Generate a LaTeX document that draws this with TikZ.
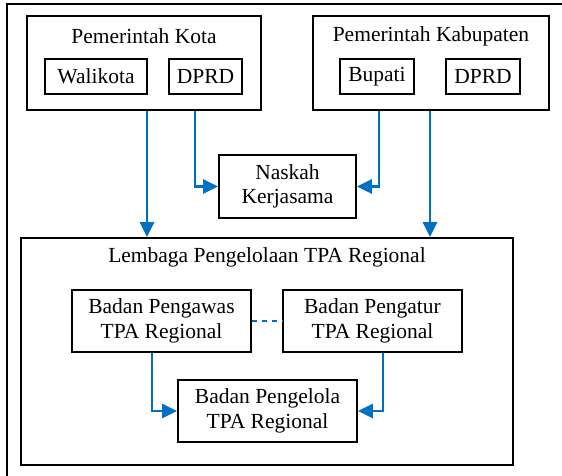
\documentclass[tikz,border=0pt]{standalone}
\usepackage{fontspec}
\setmainfont{Liberation Serif}
\usetikzlibrary{arrows.meta}
\definecolor{arrblue}{HTML}{0070C0}
\begin{document}
\begin{tikzpicture}[x=1pt,y=-1pt,
  box/.style={draw=black,line width=1.8pt,inner sep=0pt,align=center,
    font=\fontsize{21.5}{24.5}\selectfont},
  txt/.style={inner sep=0pt,font=\fontsize{21.5}{24.5}\selectfont},
  arr/.style={draw=arrblue,line width=2.5pt,-{Triangle[length=15pt,width=14pt]}},
  dashline/.style={draw=arrblue,line width=1.6pt,dash pattern=on 5pt off 5pt}]
\useasboundingbox (0,0) rectangle (562,475);
\clip (0,0) rectangle (562,475);
\fill[white] (0,0) rectangle (562,475);
% outer frame (cropped)
\draw[line width=1.8pt] (7,490) -- (7,4) -- (580,4);
% top groups
\node[box,minimum width=234,minimum height=94] (kota) at (144,63) {};
\node[txt] (kotat) at (144,36) {Pemerintah Kota};
\node[box,minimum width=102,minimum height=35] (wali) at (96,76.5) {Walikota};
\node[box,minimum width=73,minimum height=35] (dprd1) at (205.5,76.5) {DPRD};
\node[box,minimum width=236,minimum height=94] (kab) at (431,63) {};
\node[txt] (kabt) at (431,36) {Pemerintah Kabupaten};
\node[box,minimum width=74,minimum height=35] (bup) at (377,76.5) {Bupati};
\node[box,minimum width=74,minimum height=35] (dprd2) at (483,76.5) {DPRD};
% naskah
\node[box,minimum width=137,minimum height=63] (nask) at (287.5,186.5) {Naskah\\Kerjasama};
% lembaga
\node[box,minimum width=492,minimum height=227] (lemb) at (267,351.5) {};
\node[txt] (lembt) at (267,257) {Lembaga Pengelolaan TPA Regional};
\node[box,minimum width=179,minimum height=62] (awas) at (161.5,321) {Badan Pengawas\\TPA Regional};
\node[box,minimum width=179,minimum height=62] (atur) at (372.5,321) {Badan Pengatur\\TPA Regional};
\node[box,minimum width=179,minimum height=62] (kelola) at (267.5,411) {Badan Pengelola\\TPA Regional};
% connectors
\draw[arr] ([xshift=3]kota.south) -- ([xshift=3]kota.south |- lemb.north);
\draw[arr] ([xshift=51]kota.south) |- (nask.west);
\draw[arr] ([xshift=-52]kab.south) |- (nask.east);
\draw[arr] ([xshift=-1]kab.south) -- ([xshift=-1]kab.south |- lemb.north);
\draw[dashline] (awas.east) -- (atur.west);
\draw[arr] ([xshift=-9.5]awas.south) |- (kelola.west);
\draw[arr] ([xshift=10.5]atur.south) |- (kelola.east);
\end{tikzpicture}
\end{document}
